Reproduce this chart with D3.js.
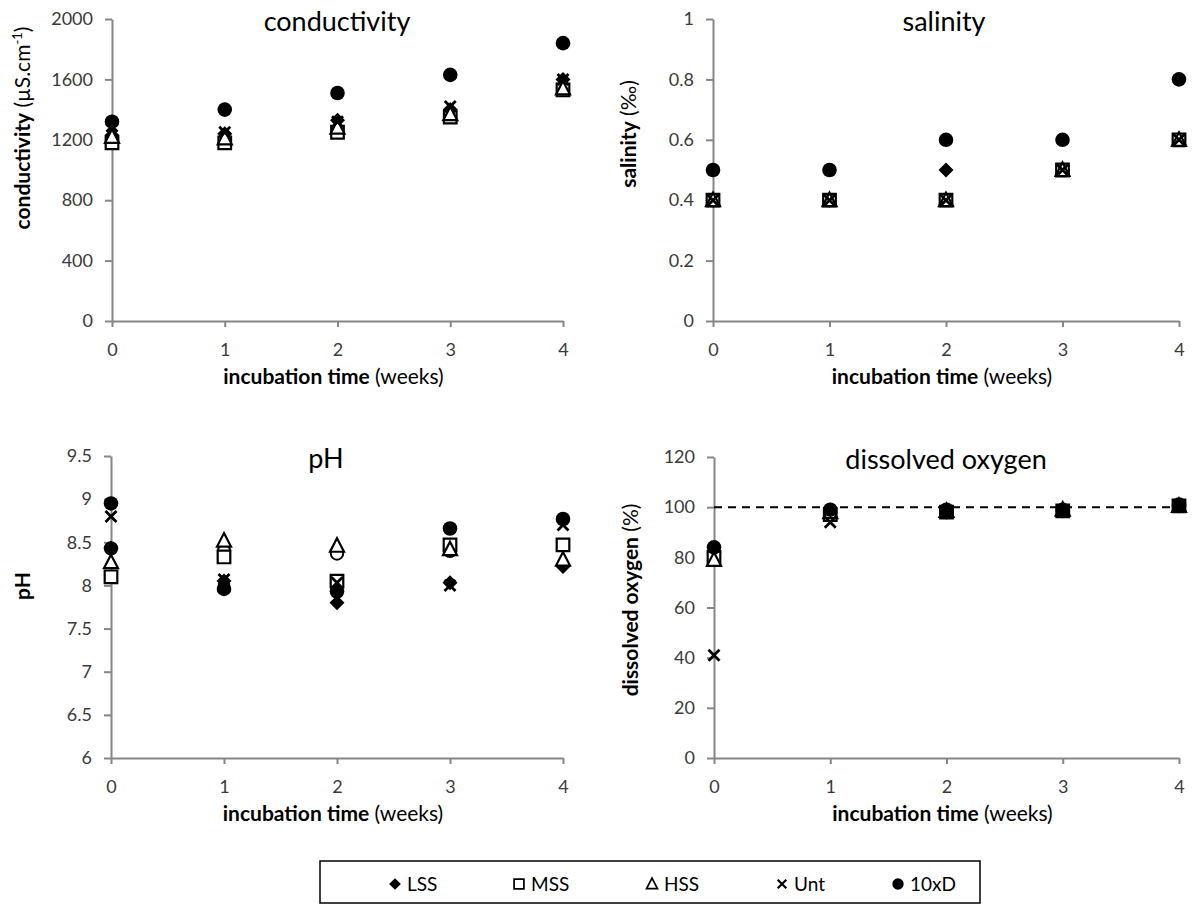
<!DOCTYPE html>
<html>
<head>
<meta charset="utf-8">
<script src="https://cdn.jsdelivr.net/npm/d3@7"></script>
<style>
  html, body { margin: 0; padding: 0; background: #fff; }
  svg { display: block; }
  text { font-family: Lato, "Open Sans", "Liberation Sans", sans-serif; }
</style>
</head>
<body>
<svg id="chart" width="1192" height="904"></svg>
<script>
// ---------------- data ----------------
const weeks = [0, 1, 2, 3, 4];
const seriesNames = ["LSS", "MSS", "HSS", "Unt", "10xD"];

// conductivity (µS.cm-1)
const condLSS  = [1230, 1240, 1330, 1400, 1600];
const condMSS  = [1180, 1180, 1250, 1350, 1530];
const condHSS  = [1220, 1210, 1280, 1370, 1540];
const condUnt  = [1290, 1250, 1320, 1420, 1600];
const cond10xD = [1320, 1400, 1510, 1630, 1840];
const condTicks = [0, 400, 800, 1200, 1600, 2000];

// salinity (‰)
const salLSS  = [0.4, 0.4, 0.5, 0.5, 0.6];
const salMSS  = [0.4, 0.4, 0.4, 0.5, 0.6];
const salHSS  = [0.4, 0.4, 0.4, 0.5, 0.6];
const salUnt  = [0.4, 0.4, 0.4, 0.5, 0.6];
const sal10xD = [0.5, 0.5, 0.6, 0.6, 0.8];
const salTicks = [0, 0.2, 0.4, 0.6, 0.8, 1];

// pH
const phLSS  = [8.43, 8.05, 7.80, 8.03, 8.22];
const phMSS  = [8.10, 8.33, 8.05, 8.47, 8.47];
const phHSS  = [8.27, 8.52, 8.46, 8.42, 8.30];
const phUnt  = [8.80, 8.07, 8.03, 8.00, 8.70];
const ph10xD = [8.95, 7.96, 7.93, 8.66, 8.77];
const phOpen = [8.43, 8.40, 8.37, 8.40, null];   // unlabelled open-circle marks
const phTicks = [6, 6.5, 7, 7.5, 8, 8.5, 9, 9.5];

// dissolved oxygen (%)
const doLSS  = [82, 98, 98, 98.5, 100.5];
const doMSS  = [80, 97, 98, 98.5, 100.5];
const doHSS  = [79, 98, 98.5, 99, 100.5];
const doUnt  = [41, 94, 98, 98.5, 100.5];
const do10xD = [84, 99, 99, 99, 101];
const doTicks = [0, 20, 40, 60, 80, 100, 120];
const doRef = 100;

// ---------------- drawing ----------------
const svg = d3.select("#chart");
const AXIS = "#868686";
const LABEL = "#3a3a3a";

function markerPath(type) {
  switch (type) {
    case "diamond": return "M0,-7.5L7.5,0L0,7.5L-7.5,0Z";
    case "square": return "M-6.3,-6.3H6.3V6.3H-6.3Z";
    case "triangle": return "M0,-7.5L7,6L-7,6Z";
    case "x": return "M-5.5,-5.5L5.5,5.5M5.5,-5.5L-5.5,5.5";
    default: return "";
  }
}
function drawMarker(g, type, cx, cy) {
  if (type === "circle") {
    g.append("circle").attr("cx", cx).attr("cy", cy).attr("r", 7.3).attr("fill", "#000");
  } else if (type === "open") {
    g.append("circle").attr("cx", cx).attr("cy", cy).attr("r", 6.2)
      .attr("fill", "#fff").attr("stroke", "#000").attr("stroke-width", 2);
  } else if (type === "diamond") {
    g.append("path").attr("transform", `translate(${cx},${cy})`).attr("d", markerPath(type)).attr("fill", "#000");
  } else if (type === "x") {
    g.append("path").attr("transform", `translate(${cx},${cy})`).attr("d", markerPath(type))
      .attr("fill", "none").attr("stroke", "#000").attr("stroke-width", 2.8);
  } else {
    g.append("path").attr("transform", `translate(${cx},${cy})`).attr("d", markerPath(type))
      .attr("fill", "#fff").attr("stroke", "#000").attr("stroke-width", 2.2);
  }
}
const markerTypes = ["diamond", "square", "triangle", "x", "circle"];

function drawPanel(cfg) {
  const g = svg.append("g");
  const x = d3.scaleLinear().domain([0, 4]).range([cfg.x0, cfg.x1]);
  const y = d3.scaleLinear().domain(cfg.domain).range([cfg.y1, cfg.y0]);

  const yAxis = g.append("g").attr("transform", `translate(${cfg.x0},0)`)
    .call(d3.axisLeft(y).tickValues(cfg.ticks).tickSize(7).tickSizeOuter(0).tickPadding(12).tickFormat(d3.format("")));
  const xAxis = g.append("g").attr("transform", `translate(0,${cfg.y1})`)
    .call(d3.axisBottom(x).tickValues(weeks).tickSize(6).tickSizeOuter(0).tickPadding(16).tickFormat(d3.format("d")));
  [yAxis, xAxis].forEach(a => {
    a.select(".domain").attr("stroke", AXIS).attr("stroke-width", 2);
    a.selectAll(".tick line").attr("stroke", AXIS).attr("stroke-width", 2);
    a.selectAll(".tick text").attr("fill", LABEL).style("font-size", "18px")
      .style("font-family", "Lato, 'Open Sans', sans-serif");
  });

  if (cfg.refLine != null) {
    g.append("line").attr("x1", cfg.x0).attr("x2", cfg.x1)
      .attr("y1", y(cfg.refLine)).attr("y2", y(cfg.refLine))
      .attr("stroke", "#000").attr("stroke-width", 2).attr("stroke-dasharray", "8,6");
  }

  if (cfg.extra) {
    cfg.extra.forEach((v, i) => { if (v != null) drawMarker(g, "open", x(weeks[i]), y(v)); });
  }
  cfg.series.forEach((vals, si) => {
    vals.forEach((v, i) => { if (v != null) drawMarker(g, markerTypes[si], x(weeks[i]), y(v)); });
  });

  // title
  g.append("text").attr("x", cfg.titleX).attr("y", cfg.y0 + 12).attr("text-anchor", "middle")
    .attr("fill", "#000").style("font-size", "27px").text(cfg.title);

  // x-axis title
  const xt = g.append("text").attr("x", (cfg.x0 + cfg.x1) / 2 - 4).attr("y", cfg.y1 + 63)
    .attr("text-anchor", "middle").attr("fill", "#000").style("font-size", "21px");
  xt.append("tspan").attr("font-weight", "bold").text("incubation time");
  xt.append("tspan").text(" (weeks)");

  // y-axis title
  const yt = g.append("text").attr("transform", `translate(${cfg.ytX},${cfg.ytY}) rotate(-90)`)
    .attr("text-anchor", "middle").attr("fill", "#000").style("font-size", "21px");
  cfg.ytParts.forEach(p => {
    const t = yt.append("tspan").text(p.t);
    if (p.b) t.attr("font-weight", "bold");
    if (p.sup) t.attr("dy", -8).style("font-size", "13px");
    if (p.after) t.attr("dy", 8);
  });
}

drawPanel({
  x0: 112, x1: 563, y0: 19, y1: 321, domain: [0, 2000], ticks: condTicks,
  series: [condLSS, condMSS, condHSS, condUnt, cond10xD],
  title: "conductivity", titleX: 337,
  ytX: 30, ytY: 128,
  ytParts: [{t: "conductivity", b: true}, {t: " (µS.cm"}, {t: "-1", sup: true}, {t: ")", after: true}]
});
drawPanel({
  x0: 713, x1: 1179, y0: 19, y1: 321, domain: [0, 1], ticks: salTicks,
  series: [salLSS, salMSS, salHSS, salUnt, sal10xD],
  title: "salinity", titleX: 944,
  ytX: 636, ytY: 134,
  ytParts: [{t: "salinity", b: true}, {t: " (‰)"}]
});
drawPanel({
  x0: 111, x1: 563, y0: 456, y1: 758, domain: [6, 9.5], ticks: phTicks,
  series: [phLSS, phMSS, phHSS, phUnt, ph10xD], extra: phOpen,
  title: "pH", titleX: 326,
  ytX: 30, ytY: 586,
  ytParts: [{t: "pH", b: true}]
});
drawPanel({
  x0: 714, x1: 1179, y0: 457, y1: 758, domain: [0, 120], ticks: doTicks,
  series: [doLSS, doMSS, doHSS, doUnt, do10xD], refLine: doRef,
  title: "dissolved oxygen", titleX: 946,
  ytX: 638, ytY: 600,
  ytParts: [{t: "dissolved oxygen", b: true}, {t: " (%)"}]
});

// ---------------- legend ----------------
const legendX = [395, 519, 652, 782, 898];
const lg = svg.append("g");
lg.append("rect").attr("x", 320).attr("y", 861).attr("width", 660).attr("height", 42)
  .attr("fill", "#fff").attr("stroke", "#000").attr("stroke-width", 1.5);
seriesNames.forEach((name, i) => {
  const cx = legendX[i], cy = 884;
  const mg = lg.append("g").attr("transform", `translate(${cx},${cy}) scale(0.78)`);
  drawMarker(mg, markerTypes[i], 0, 0);
  lg.append("text").attr("x", cx + 12).attr("y", cy + 7).attr("fill", "#000")
    .style("font-size", "19px").text(name);
});
</script>
</body>
</html>
